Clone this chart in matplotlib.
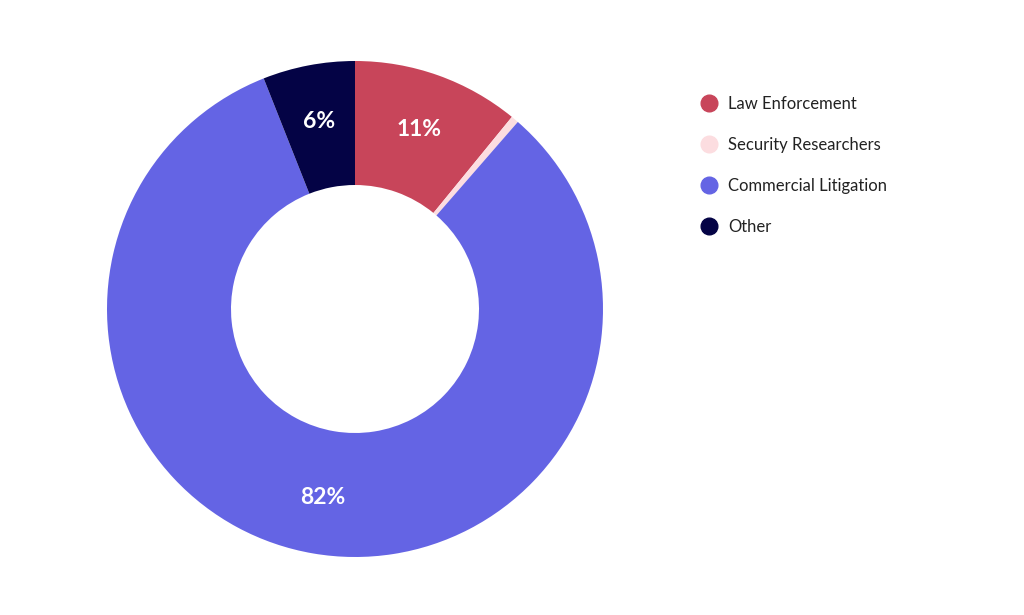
import matplotlib.pyplot as plt
from matplotlib.lines import Line2D
import numpy as np

# data
categories = ['Law Enforcement', 'Security Researchers', 'Commercial Litigation', 'Other']
shares = [10.9, 0.5, 82.6, 6.0]
colors = ['#C8455A', '#FCDDE0', '#6464E4', '#040345']
pct_labels = ['11%', '', '82%', '6%']

plt.rcParams['font.family'] = ['Lato', 'DejaVu Sans']

fig = plt.figure(figsize=(10.24, 6.15), dpi=100)
W, H = 1024, 615
cx, cy, r = 355, 309, 248
ax = fig.add_axes([(cx - r) / W, (H - cy - r) / H, 2 * r / W, 2 * r / H])

wedges, _ = ax.pie(shares, colors=colors, startangle=90, counterclock=False,
                   radius=1, wedgeprops=dict(width=0.5, linewidth=0))
ax.set_xlim(-1, 1)
ax.set_ylim(-1, 1)
ax.set_aspect('equal')

# percent labels at wedge middles
for w, lab in zip(wedges, pct_labels):
    if not lab:
        continue
    ang = np.deg2rad((w.theta1 + w.theta2) / 2)
    ax.text(0.77 * np.cos(ang), 0.77 * np.sin(ang), lab, ha='center', va='center',
            color='white', fontsize=16.5, fontweight='bold')

handles = [Line2D([], [], marker='o', linestyle='none', markersize=12,
                  markerfacecolor=c, markeredgecolor=c) for c in colors]
fig.legend(handles, categories, loc='upper left', bbox_to_anchor=(681 / W, 1 - 81 / H),
           frameon=False, fontsize=12, labelspacing=1.5, handletextpad=0.45,
           handlelength=1.5, labelcolor='#222222')

fig.savefig('out.png', dpi=100, facecolor='white')
